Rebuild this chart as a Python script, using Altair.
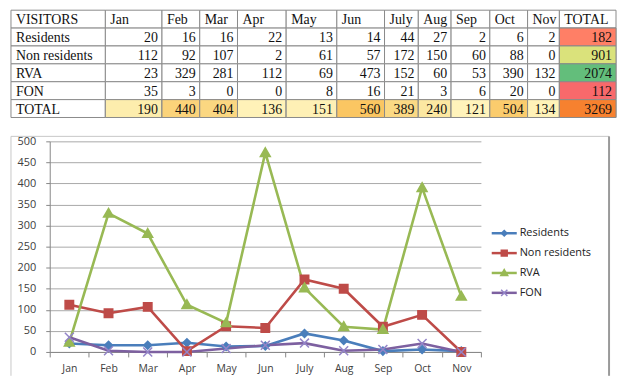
import altair as alt
import pandas as pd
import statistics

# ---------------- data ----------------
months = ["Jan", "Feb", "Mar", "Apr", "May", "Jun", "July", "Aug", "Sep", "Oct", "Nov"]
series_names = ["Residents", "Non residents", "RVA", "FON"]
residents = [20, 16, 16, 22, 13, 14, 44, 27, 2, 6, 2]
non_residents = [112, 92, 107, 2, 61, 57, 172, 150, 60, 88, 0]
rva = [23, 329, 281, 112, 69, 473, 152, 60, 53, 390, 132]
fon = [35, 3, 0, 0, 8, 16, 21, 3, 6, 20, 0]
month_totals = [190, 440, 404, 136, 151, 560, 389, 240, 121, 504, 134]
row_totals = [182, 901, 2074, 112]
grand_total = 3269
y_ticks = [0, 50, 100, 150, 200, 250, 300, 350, 400, 450, 500]

series_values = [residents, non_residents, rva, fon]

# ---------------- styles / layout ----------------
FONT_T = "Liberation Serif"
FONT_C = "Open Sans"
GRID = "#8a8a8a"
line_colors = ["#4a7ebb", "#be4b48", "#98b954", "#7d60a0"]
marker_colors = ["#4a7ebb", "#be4b48", "#98b954", "#9384c8"]
marker_shapes = [
    "M0,-0.8L0.8,0L0,0.8L-0.8,0Z",
    "M-0.85,-0.85L0.85,-0.85L0.85,0.85L-0.85,0.85Z",
    "M0,-1L1,0.75L-1,0.75Z",
    "M-0.9,-0.9L0.9,0.9M-0.9,0.9L0.9,-0.9",
]
COL_W = [95, 57, 38, 38, 49, 51, 48, 34, 33, 39, 38, 32, 57]
TABLE_H = 108
PLOT_W, PLOT_H = 434, 212
LEFT_GAP = 39

# ---------------- table ----------------
row_keys = ["head"] + series_names + ["TOTAL"]
col_keys = ["label"] + months + ["TOTAL"]
records = [dict(col="label", row="head", text="VISITORS", value=None, kind="left")]
for s in series_names:
    records.append(dict(col="label", row=s, text=s, value=None, kind="left"))
records.append(dict(col="label", row="TOTAL", text="TOTAL", value=None, kind="left"))
for i, m in enumerate(months):
    records.append(dict(col=m, row="head", text=m, value=None, kind="left"))
    for s, vals in zip(series_names, series_values):
        records.append(dict(col=m, row=s, text=str(vals[i]), value=vals[i], kind="num"))
    records.append(dict(col=m, row="TOTAL", text=str(month_totals[i]), value=month_totals[i], kind="month_total"))
records.append(dict(col="TOTAL", row="head", text="TOTAL", value=None, kind="left"))
for s, t in zip(series_names, row_totals):
    records.append(dict(col="TOTAL", row=s, text=str(t), value=t, kind="series_total"))
records.append(dict(col="TOTAL", row="TOTAL", text=str(grand_total), value=grand_total, kind="grand"))
table_df = pd.DataFrame(records)


def table_column(key, width):
    base = alt.Chart(table_df).transform_filter(alt.datum.col == key).encode(
        y=alt.Y("row:N", sort=row_keys, axis=None,
                scale=alt.Scale(domain=row_keys, paddingInner=0, paddingOuter=0))
    )
    span = dict(x=alt.value(0), x2=alt.value(width))
    layers = [base.mark_rect(fill="white", stroke=GRID, strokeWidth=1).encode(**span)]
    if key in months:
        layers.append(
            base.transform_filter(alt.datum.kind == "month_total")
            .mark_rect(stroke=GRID, strokeWidth=1)
            .encode(color=alt.Color("value:Q", legend=None,
                                    scale=alt.Scale(domain=[min(month_totals), max(month_totals)],
                                                    range=["#fff3bb", "#fbc662"])), **span)
        )
    if key == "TOTAL":
        layers.append(
            base.transform_filter(alt.datum.kind == "series_total")
            .mark_rect(stroke=GRID, strokeWidth=1)
            .encode(color=alt.Color("value:Q", legend=None,
                                    scale=alt.Scale(domain=[min(row_totals), statistics.median(row_totals), max(row_totals)],
                                                    range=["#f8696b", "#ffeb84", "#63be7b"])), **span)
        )
        layers.append(
            base.transform_filter(alt.datum.kind == "grand")
            .mark_rect(fill="#f7812f", stroke=GRID, strokeWidth=1).encode(**span)
        )
    layers.append(
        base.transform_filter(alt.datum.kind == "left")
        .mark_text(align="left", baseline="middle", font=FONT_T, fontSize=14, color="#111111", dy=1)
        .encode(x=alt.value(5), text="text:N")
    )
    layers.append(
        base.transform_filter(alt.datum.kind != "left")
        .mark_text(align="right", baseline="middle", font=FONT_T, fontSize=14, color="#111111", dy=1)
        .encode(x=alt.value(width - 4), text="text:N")
    )
    return alt.layer(*layers).properties(width=width, height=TABLE_H)


table = alt.hconcat(*[table_column(k, w) for k, w in zip(col_keys, COL_W)],
                    spacing=0, bounds="flush").resolve_scale(color="independent", y="independent")

# ---------------- line chart ----------------
line_df = pd.DataFrame([
    {"month": m, "series": s, "value": v}
    for s, vals in zip(series_names, series_values)
    for m, v in zip(months, vals)
])

LEG = dict(title=None, orient="none", legendX=452, legendY=87, padding=0,
           symbolSize=49, labelOffset=10, labelFont=FONT_C, labelFontSize=11)

line_legend = alt.Legend(symbolType="M-3.6,0L3.6,0", symbolStrokeWidth=2.5, rowPadding=8,
                         labelColor="#222222", **LEG)
mark_legend = alt.Legend(symbolStrokeWidth=1.5, labelExpr="''", rowPadding=7, **LEG)

x_enc = alt.X("month:N", sort=months, title=None,
              scale=alt.Scale(type="band", domain=months, paddingInner=0, paddingOuter=0),
              axis=alt.Axis(labelAngle=0, tickBand="extent", tickSize=5, tickColor="#868686",
                            domainColor="#868686", labelFont=FONT_C, labelFontSize=10.5,
                            labelColor="#404040", labelPadding=7, grid=False))
y_enc = alt.Y("value:Q", title=None,
              scale=alt.Scale(domain=[0, 500], nice=False),
              axis=alt.Axis(values=y_ticks, grid=True, gridColor="#a8a8a8", domainColor="#868686",
                            tickColor="#868686", tickSize=4, labelPadding=10, labelFont=FONT_C,
                            labelFontSize=11, labelColor="#404040"))

lines = alt.Chart(line_df).mark_line(strokeWidth=2.6).encode(
    x=x_enc, y=y_enc,
    color=alt.Color("series:N", sort=series_names,
                    scale=alt.Scale(range=line_colors), legend=line_legend),
)
points = alt.Chart(line_df).mark_point(filled=True, opacity=1, strokeWidth=1.5, size=100).encode(
    x=x_enc, y=y_enc,
    shape=alt.Shape("series:N", scale=alt.Scale(domain=series_names, range=marker_shapes), legend=mark_legend),
    fill=alt.Fill("series:N", scale=alt.Scale(domain=series_names, range=marker_colors), legend=mark_legend),
    stroke=alt.Stroke("series:N", scale=alt.Scale(domain=series_names, range=marker_colors), legend=mark_legend),
)

one = pd.DataFrame({"k": [0]})
FRAME_BOTTOM = 236
frame_top = alt.Chart(one).mark_rule(color="#c8c8c8", strokeWidth=1).encode(
    x=alt.value(-LEFT_GAP), x2=alt.value(563), y=alt.value(-5))
frame_left = alt.Chart(one).mark_rule(color="#c8c8c8", strokeWidth=1).encode(
    x=alt.value(-LEFT_GAP), y=alt.value(-5), y2=alt.value(FRAME_BOTTOM))
frame_right = alt.Chart(one).mark_rule(color="#9a9a9a", strokeWidth=2).encode(
    x=alt.value(563), y=alt.value(-5), y2=alt.value(FRAME_BOTTOM))

line_chart = alt.layer(frame_top, frame_left, frame_right, lines, points).properties(
    width=PLOT_W, height=PLOT_H)

spacer = alt.Chart(one).mark_point(opacity=0).encode(
    x=alt.value(0), y=alt.value(0)).properties(width=LEFT_GAP, height=PLOT_H)

IND = dict(color="independent", x="independent", y="independent",
           fill="independent", stroke="independent", shape="independent")

chart_row = alt.hconcat(spacer, line_chart, spacing=0, bounds="flush").resolve_scale(**IND)

chart = alt.vconcat(table, chart_row, spacing=17).resolve_scale(**IND) \
    .properties(padding=0).configure_view(stroke=None)

chart.save("out.html", embed_options={"renderer": "svg", "actions": False})
